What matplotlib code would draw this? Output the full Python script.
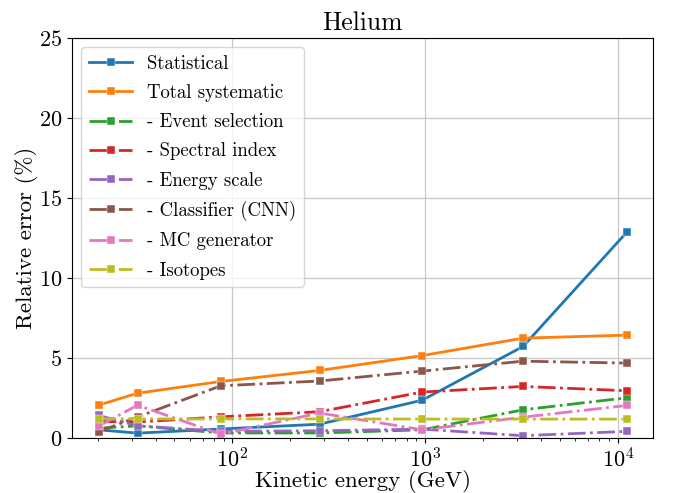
import numpy as np
import matplotlib
matplotlib.use("Agg")
import matplotlib.pyplot as plt

plt.rcParams["font.family"] = "serif"
plt.rcParams["font.serif"] = ["cmr10"]
plt.rcParams["mathtext.fontset"] = "cm"
plt.rcParams["axes.formatter.use_mathtext"] = True
plt.rcParams["axes.unicode_minus"] = False

# kinetic energy bin centres (GeV)
energy = [20.2, 32.2, 87.0, 283.0, 965.0, 3220.0, 11100.0]

statistical = [0.50, 0.29, 0.55, 0.85, 2.35, 5.71, 12.85]
total_syst = [2.04, 2.79, 3.52, 4.21, 5.14, 6.23, 6.42]
event_sel = [0.60, 0.75, 0.30, 0.30, 0.50, 1.75, 2.50]
spectral_idx = [1.02, 0.98, 1.31, 1.63, 2.86, 3.21, 2.94]
energy_scale = [1.40, 0.75, 0.40, 0.44, 0.54, 0.13, 0.40]
classifier = [0.38, 1.30, 3.25, 3.55, 4.17, 4.79, 4.67]
mc_generator = [0.72, 2.04, 0.22, 1.55, 0.50, 1.29, 2.02]
isotopes = [1.20, 1.18, 1.18, 1.18, 1.17, 1.17, 1.17]

series = [
    ("Statistical", statistical, "-", "#1f77b4"),
    ("Total systematic", total_syst, "-", "#ff7f0e"),
    ("- Event selection", event_sel, "-.", "#2ca02c"),
    ("- Spectral index", spectral_idx, "-.", "#d62728"),
    ("- Energy scale", energy_scale, "-.", "#9467bd"),
    ("- Classifier (CNN)", classifier, "-.", "#8c564b"),
    ("- MC generator", mc_generator, "-.", "#e377c2"),
    ("- Isotopes", isotopes, "-.", "#bcbd22"),
]

fig, ax = plt.subplots(figsize=(6.74, 4.93), dpi=100)

for label, vals, ls, col in series:
    ax.plot(energy, vals, ls, color=col, marker="s", lw=2, ms=6,
            mec="white", mew=0.3, label=label)

ax.set_xscale("log")
ax.set_ylim(0, 25)
ax.set_yticks([0, 5, 10, 15, 20, 25])
ax.grid(True, color="#c8c8c8", lw=0.9)
ax.tick_params(labelsize=16)
ax.set_xlabel("Kinetic energy (GeV)", fontsize=16.5, labelpad=-1.5)
ax.set_ylabel("Relative error (%)", fontsize=16.5, labelpad=1)
ax.set_title("Helium", fontsize=18.5)
ax.legend(loc="upper left", fontsize=13.5, handlelength=2.3,
          labelspacing=0.6)

plt.subplots_adjust(left=0.107, right=0.969, top=0.923, bottom=0.112)
plt.savefig("out.png", dpi=100)
